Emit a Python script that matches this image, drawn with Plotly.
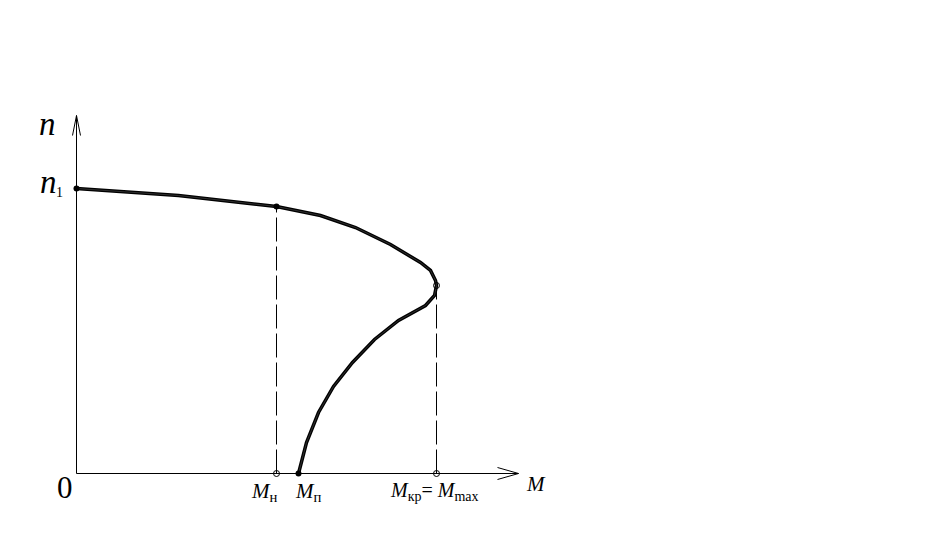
import plotly.graph_objects as go

# Mechanical characteristic n(M) of an induction motor (units: arbitrary)
M_curve = [0, 102, 200, 244, 279, 314, 344, 354, 359, 360, 358, 349, 322, 298, 276, 257, 242, 230, 222]
n_curve = [285, 278, 267, 258, 246, 229, 211, 203, 193, 188, 178, 168, 153, 134, 111, 87, 61, 31, 0]

n1 = 285
M_nom, n_nom = 200, 267
M_kr, n_kr = 360, 188
M_p = 222
M_axis_max = 442
n_axis_max = 358

FONT = "Liberation Serif, Times New Roman, serif"
fig = go.Figure()

def line(xs, ys, **kw):
    fig.add_trace(go.Scatter(x=xs, y=ys, mode="lines", hoverinfo="skip",
                             line=dict(color="black", width=1, **kw)))

# axes
line([0, M_axis_max], [0, 0])
line([0, 0], [0, n_axis_max])
# open arrowheads
line([M_axis_max - 21, M_axis_max, M_axis_max - 21], [6, 0, -6])
line([-4, 0, 4], [n_axis_max - 20, n_axis_max, n_axis_max - 20])

# dashed projections
line([M_nom, M_nom], [0, n_nom], dash="24px,5px")
line([M_kr, M_kr], [0, n_kr], dash="24px,5px")

# curve (double line look)
fig.add_trace(go.Scatter(x=M_curve, y=n_curve, mode="lines",
                         line=dict(color="black", width=3.5), hoverinfo="skip"))
fig.add_trace(go.Scatter(x=M_curve, y=n_curve, mode="lines",
                         line=dict(color="#444444", width=0.7), hoverinfo="skip"))

# markers
fig.add_trace(go.Scatter(x=[M_nom, M_kr, M_kr], y=[0, 0, n_kr], mode="markers",
                         marker=dict(symbol="circle-open", size=6, color="black", line=dict(width=1)),
                         hoverinfo="skip"))
fig.add_trace(go.Scatter(x=[0, M_nom, M_p], y=[n1, n_nom, 0], mode="markers",
                         marker=dict(symbol="circle", size=6, color="black"), hoverinfo="skip"))

ann = [
    dict(x=-29, y=350, text="<i>n</i>", size=33),
    dict(x=-28, y=292, text="<i>n</i>", size=33),
    dict(x=-17, y=281, text="1", size=14),
    dict(x=-12, y=-14, text="0", size=31),
    dict(x=459, y=-10, text="<i>M</i>", size=21),
    dict(x=188, y=-18, text="<i>M</i><sub>н</sub>", size=21),
    dict(x=232, y=-18, text="<i>M</i><sub>п</sub>", size=21),
    dict(x=358, y=-18, text="<i>M</i><sub>кр</sub>= <i>M</i><sub>max</sub>", size=20),
]
for a in ann:
    fig.add_annotation(x=a["x"], y=a["y"], text=a["text"], showarrow=False,
                       font=dict(family=FONT, size=a["size"], color="black"),
                       xanchor="center", yanchor="middle")

# the page body has an 8px margin, so ranges are shifted to keep the origin in place
# (half-pixel offset keeps the thin axis/dash lines crisp)
fig.update_layout(
    width=938, height=533,
    margin=dict(l=0, r=0, t=0, b=0),
    paper_bgcolor="white", plot_bgcolor="white",
    showlegend=False,
    xaxis=dict(range=[-68.5, 869.5], visible=False, fixedrange=True),
    yaxis=dict(range=[-67.5, 465.5], visible=False, fixedrange=True),
)

fig.write_html("out.html")
